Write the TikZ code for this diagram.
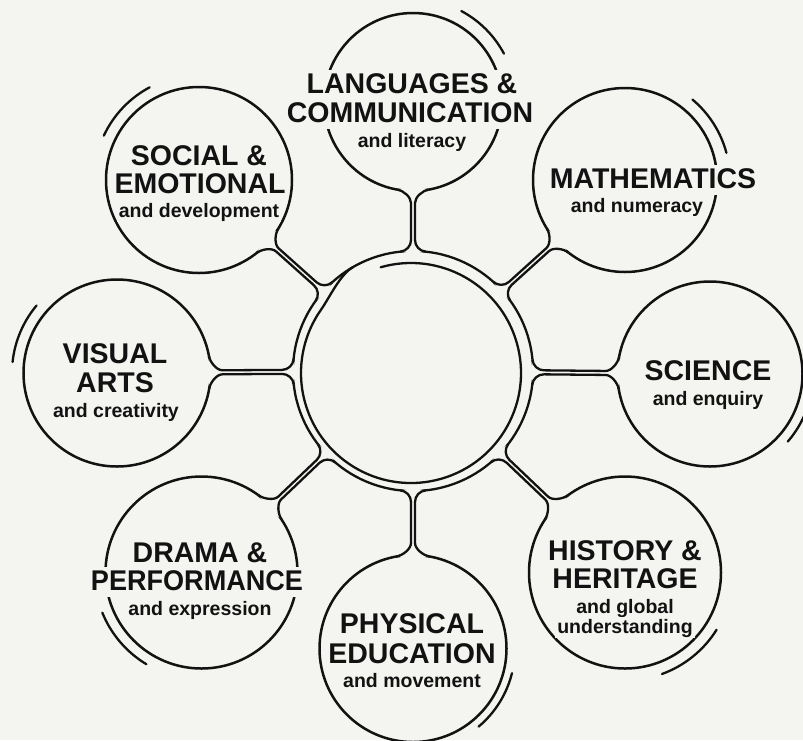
\documentclass[tikz,border=0pt]{standalone}
\usepackage{fontspec}
\setmainfont{Liberation Sans}
\usepackage{graphicx}
\usetikzlibrary{calc}
\definecolor{bgc}{HTML}{F4F4F0}
\definecolor{ink}{HTML}{121212}
\def\Rr{120}\def\ww{2}\def\al{6}\def\be{10}
\newcommand\neckpath[3]{%
  \fill[bgc] ($(ring)+(#2+\al:\Rr)$) .. controls ($(ring)+(#2+\al:\Rr)+(#2+\al-90:6)$) and ($(ring)+(#2:\Rr+5)+(#2+90:\ww)$) .. ($(ring)+(#2:\Rr+11)+(#2+90:\ww)$)
   -- ($(#1)+(#2+180:#3+12)+(#2+90:\ww)$) .. controls ($(#1)+(#2+180:#3+6)+(#2+90:\ww)$) and ($(#1)+(#2+180-\be:#3)+(#2-90-\be:6)$) .. ($(#1)+(#2+180-\be:#3)$)
   -- ($(#1)+(#2+180:#3-4)$) -- ($(#1)+(#2+180+\be:#3)$)
   .. controls ($(#1)+(#2+180+\be:#3)+(#2+90+\be:6)$) and ($(#1)+(#2+180:#3+6)+(#2-90:\ww)$) .. ($(#1)+(#2+180:#3+12)+(#2-90:\ww)$)
   -- ($(ring)+(#2:\Rr+11)+(#2-90:\ww)$) .. controls ($(ring)+(#2:\Rr+5)+(#2-90:\ww)$) and ($(ring)+(#2-\al:\Rr)+(#2+90-\al:6)$) .. ($(ring)+(#2-\al:\Rr)$)
   -- ($(ring)+(#2:\Rr-3)$) -- cycle;
  \draw[neckline] ($(ring)+(#2+\al:\Rr)$) .. controls ($(ring)+(#2+\al:\Rr)+(#2+\al-90:6)$) and ($(ring)+(#2:\Rr+5)+(#2+90:\ww)$) .. ($(ring)+(#2:\Rr+11)+(#2+90:\ww)$)
   -- ($(#1)+(#2+180:#3+12)+(#2+90:\ww)$) .. controls ($(#1)+(#2+180:#3+6)+(#2+90:\ww)$) and ($(#1)+(#2+180-\be:#3)+(#2-90-\be:6)$) .. ($(#1)+(#2+180-\be:#3)$);
  \draw[neckline] ($(#1)+(#2+180+\be:#3)$)
   .. controls ($(#1)+(#2+180+\be:#3)+(#2+90+\be:6)$) and ($(#1)+(#2+180:#3+6)+(#2-90:\ww)$) .. ($(#1)+(#2+180:#3+12)+(#2-90:\ww)$)
   -- ($(ring)+(#2:\Rr+11)+(#2-90:\ww)$) .. controls ($(ring)+(#2:\Rr+5)+(#2-90:\ww)$) and ($(ring)+(#2-\al:\Rr)+(#2+90-\al:6)$) .. ($(ring)+(#2-\al:\Rr)$);
}
\tikzset{
  circ/.style={circle, draw=ink, line width=2.5pt, inner sep=0pt},
  neckline/.style={draw=ink, line width=2.3pt, line join=round},
  ringline/.style={draw=ink, line width=2.3pt, line cap=round},
  accent/.style={draw=ink, line width=2.3pt, line cap=round},
  ttl/.style={font=\fontsize{28.5}{29}\selectfont\bfseries, text=ink, fill=bgc, anchor=base, inner xsep=2pt, inner ysep=0pt, text height=23pt, text depth=7pt},
  sub/.style={font=\fontsize{19.5}{21}\selectfont\bfseries, text=ink, fill=bgc, anchor=base, inner xsep=2pt, inner ysep=0pt, text height=16pt, text depth=5pt}
}
\begin{document}
\begin{tikzpicture}[x=1pt,y=-1pt]
\fill[bgc] (0,0) rectangle (803,740);
\path[use as bounding box] (0,0) rectangle (803,740);
\clip (0,0) rectangle (803,740);
% circles
\node[circ, minimum size=240pt, line width=2.3pt] (ring) at (413,371) {};
\coordinate (ic) at (411,373);
\draw[ringline] ($(ic)+(-106:110)$) arc[start angle=-106, end angle=215, radius=110]
  .. controls ($(ic)+(215:110)+(305:15)$) and ($(ring)+(240:120)+(150:15)$) .. ($(ring)+(240:120)$);
\node[circ, minimum size=178pt] (lang) at (413,102) {};
\node[circ, minimum size=186pt] (soc) at (199,180) {};
\node[circ, minimum size=184pt] (math) at (625,180) {};
\node[circ, minimum size=187pt] (vis) at (117,373) {};
\node[circ, minimum size=185pt] (sci) at (710,374) {};
\node[circ, minimum size=192pt] (dra) at (201.5,572.5) {};
\node[circ, minimum size=187pt] (phy) at (413,648.5) {};
\node[circ, minimum size=192pt] (his) at (625,572.5) {};
% connectors
\neckpath{lang}{-90}{89}
\neckpath{soc}{-138.26}{93}
\neckpath{math}{-42.0}{92}
\neckpath{vis}{179.61}{93.5}
\neckpath{sci}{0.58}{92.5}
\neckpath{dra}{136.39}{96}
\neckpath{phy}{90}{93.5}
\neckpath{his}{43.54}{96}
% accent arcs
\draw[accent] ($(lang)+(-62:103)$) arc[start angle=-62, end angle=-28, radius=103];
\draw[accent] ($(soc)+(-155:105)$) arc[start angle=-155, end angle=-118, radius=105];
\draw[accent] ($(math)+(-50:105)$) arc[start angle=-50, end angle=-15, radius=105];
\draw[accent] ($(vis)+(-174:105)$) arc[start angle=-174, end angle=-140, radius=105];
\draw[accent] ($(sci)+(10:103)$) arc[start angle=10, end angle=41, radius=103];
\draw[accent] ($(dra)+(121:107)$) arc[start angle=121, end angle=158, radius=107];
\draw[accent] ($(phy)+(14:102)$) arc[start angle=14, end angle=50, radius=102];
\draw[accent] ($(his)+(32:108)$) arc[start angle=32, end angle=70, radius=108];
% texts
\node[ttl] (lang1) at (412,93) {LANGUAGES \&};
\node[ttl] (lang2) at (410,122) {COMMUNICATION};
\node[sub] (lang3) at (412,147) {and literacy};
\node[ttl] (soc1) at (199,165) {SOCIAL \&};
\node[ttl] (soc2) at (200,193) {EMOTIONAL};
\node[sub] (soc3) at (199,217) {and development};
\node[ttl] (math1) at (653,188) {MATHEMATICS};
\node[sub] (math2) at (637,212) {and numeracy};
\node[ttl] (vis1) at (115,363) {VISUAL};
\node[ttl] (vis2) at (115,392) {ARTS};
\node[sub] (vis3) at (116,417) {and creativity};
\node[ttl] (sci1) at (708,380) {SCIENCE};
\node[sub] (sci2) at (708,405) {and enquiry};
\node[ttl] (dra1) at (200,562) {DRAMA \&};
\node[ttl] (dra2) at (197,590) {\scalebox{0.95}[1]{PERFORMANCE}};
\node[sub] (dra3) at (200,615) {and expression};
\node[ttl] (phy1) at (412,633) {PHYSICAL};
\node[ttl] (phy2) at (412,663) {EDUCATION};
\node[sub] (phy3) at (412,687) {and movement};
\node[ttl] (his1) at (625,560) {HISTORY \&};
\node[ttl] (his2) at (625,588) {HERITAGE};
\node[sub] (his3) at (625,613) {and global};
\node[sub] (his4) at (625,633) {understanding};
\end{tikzpicture}
\end{document}
